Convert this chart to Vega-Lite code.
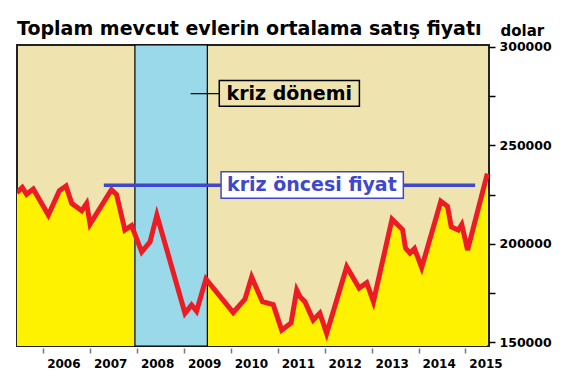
{
  "$schema": "https://vega.github.io/schema/vega-lite/v6.json",
  "width": 472,
  "height": 301,
  "autosize": {"type": "none"},
  "padding": {"left": 17, "top": 45, "right": 77, "bottom": 38},
  "background": "white",
  "config": {
    "view": {"fill": "#EFE4B0", "stroke": "#222222", "strokeWidth": 2},
    "font": "DejaVu Sans"
  },
  "title": {
    "text": "Toplam mevcut evlerin ortalama satış fiyatı",
    "anchor": "start",
    "frame": "group",
    "offset": 10,
    "dy": 26,
    "font": "DejaVu Sans",
    "fontSize": 19,
    "fontWeight": "bold",
    "color": "#000000"
  },
  "datasets": {
    "fiyat": [
      {"tarih": "2005-06-08", "fiyat": 225900},
      {"tarih": "2005-07-21", "fiyat": 228600},
      {"tarih": "2005-08-24", "fiyat": 225100},
      {"tarih": "2005-10-15", "fiyat": 227800},
      {"tarih": "2006-02-09", "fiyat": 214600},
      {"tarih": "2006-05-06", "fiyat": 226900},
      {"tarih": "2006-06-27", "fiyat": 229300},
      {"tarih": "2006-08-10", "fiyat": 220500},
      {"tarih": "2006-10-27", "fiyat": 216800},
      {"tarih": "2006-12-04", "fiyat": 220500},
      {"tarih": "2006-12-31", "fiyat": 210000},
      {"tarih": "2007-06-15", "fiyat": 227500},
      {"tarih": "2007-07-25", "fiyat": 225000},
      {"tarih": "2007-09-28", "fiyat": 207000},
      {"tarih": "2007-11-19", "fiyat": 209200},
      {"tarih": "2008-02-06", "fiyat": 195900},
      {"tarih": "2008-04-11", "fiyat": 201000},
      {"tarih": "2008-06-03", "fiyat": 214600},
      {"tarih": "2009-01-08", "fiyat": 164700},
      {"tarih": "2009-02-28", "fiyat": 168900},
      {"tarih": "2009-04-08", "fiyat": 165800},
      {"tarih": "2009-06-20", "fiyat": 182100},
      {"tarih": "2010-01-19", "fiyat": 165100},
      {"tarih": "2010-04-20", "fiyat": 171900},
      {"tarih": "2010-06-11", "fiyat": 183100},
      {"tarih": "2010-09-03", "fiyat": 170600},
      {"tarih": "2010-11-26", "fiyat": 169100},
      {"tarih": "2011-01-31", "fiyat": 156200},
      {"tarih": "2011-04-14", "fiyat": 159800},
      {"tarih": "2011-05-28", "fiyat": 176500},
      {"tarih": "2011-06-23", "fiyat": 173100},
      {"tarih": "2011-07-31", "fiyat": 170600},
      {"tarih": "2011-10-03", "fiyat": 161300},
      {"tarih": "2011-11-24", "fiyat": 164800},
      {"tarih": "2012-01-16", "fiyat": 154500},
      {"tarih": "2012-06-20", "fiyat": 188300},
      {"tarih": "2012-09-25", "fiyat": 177500},
      {"tarih": "2012-11-23", "fiyat": 180200},
      {"tarih": "2013-01-14", "fiyat": 170600},
      {"tarih": "2013-06-08", "fiyat": 212500},
      {"tarih": "2013-08-29", "fiyat": 207200},
      {"tarih": "2013-09-21", "fiyat": 197800},
      {"tarih": "2013-10-26", "fiyat": 195300},
      {"tarih": "2013-11-30", "fiyat": 197600},
      {"tarih": "2014-01-25", "fiyat": 187900},
      {"tarih": "2014-06-23", "fiyat": 221600},
      {"tarih": "2014-08-14", "fiyat": 219000},
      {"tarih": "2014-09-12", "fiyat": 208600},
      {"tarih": "2014-11-06", "fiyat": 207000},
      {"tarih": "2014-12-03", "fiyat": 209800},
      {"tarih": "2015-01-17", "fiyat": 196800},
      {"tarih": "2015-06-20", "fiyat": 235600}
    ],
    "kriz": [
      {"baslangic": "2007-12-15", "bitis": "2009-07-01"}
    ],
    "oncesi": [
      {"bas": "2007-04-17", "son": "2015-03-17", "fiyat": 229650}
    ],
    "kutu1": [
      {"metin": "kriz öncesi fiyat", "x1": "2009-10-16", "x2": "2013-09-04", "xm": "2011-09-23", "y1": 223050, "y2": 236550, "ym": 229650}
    ],
    "kutu2": [
      {"metin": "kriz dönemi", "x0": "2009-02-21", "x1": "2009-10-02", "x2": "2012-09-27", "xm": "2011-03-31", "y1": 269750, "y2": 282940, "ym": 276200}
    ]
  },
  "layer": [
    {
      "data": {"name": "fiyat"},
      "mark": {"type": "area", "color": "#FFF200", "clip": true},
      "encoding": {
        "x": {
          "field": "tarih", "type": "temporal",
          "scale": {"type": "utc", "domain": [{"year": 2005, "month": 6, "date": 10, "utc": true}, {"year": 2015, "month": 7, "date": 3, "utc": true}]},
          "axis": {
            "values": [
              {"year": 2006, "month": 1, "date": 1, "utc": true},
              {"year": 2007, "month": 1, "date": 1, "utc": true},
              {"year": 2008, "month": 1, "date": 1, "utc": true},
              {"year": 2009, "month": 1, "date": 1, "utc": true},
              {"year": 2010, "month": 1, "date": 1, "utc": true},
              {"year": 2011, "month": 1, "date": 1, "utc": true},
              {"year": 2012, "month": 1, "date": 1, "utc": true},
              {"year": 2013, "month": 1, "date": 1, "utc": true},
              {"year": 2014, "month": 1, "date": 1, "utc": true},
              {"year": 2015, "month": 1, "date": 1, "utc": true}
            ],
            "format": "%Y",
            "labelOffset": 20,
            "domain": false,
            "grid": false,
            "offset": 2,
            "tickColor": "#777777",
            "tickSize": 5,
            "tickWidth": 1.5,
            "labelPadding": 5,
            "labelFont": "DejaVu Sans",
            "labelFontSize": 12,
            "labelFontWeight": "bold",
            "labelColor": "#000000",
            "labelFlush": false,
            "labelOverlap": false,
            "title": null
          }
        },
        "y": {
          "field": "fiyat", "type": "quantitative",
          "scale": {"domain": [148100, 300900], "zero": false, "nice": false},
          "axis": {
            "orient": "right",
            "values": [150000, 175000, 200000, 225000, 250000, 275000, 300000],
            "format": "d",
            "labelExpr": "datum.value % 50000 === 0 ? datum.label : ''",
            "domain": false,
            "grid": false,
            "tickColor": "#000000",
            "tickSize": 6,
            "tickWidth": 1.5,
            "labelPadding": 4,
            "labelFont": "DejaVu Sans",
            "labelFontSize": 12.5,
            "labelFontWeight": "bold",
            "labelColor": "#000000",
            "labelBaseline": "middle",
            "title": "dolar",
            "titleAngle": 0,
            "titleX": 11,
            "titleY": -10,
            "titleAlign": "left",
            "titleBaseline": "alphabetic",
            "titleFont": "DejaVu Sans",
            "titleFontSize": 15,
            "titleFontWeight": "bold",
            "titleColor": "#000000"
          }
        }
      }
    },
    {
      "data": {"name": "kriz"},
      "mark": {"type": "rect", "fill": "#99D9EA", "stroke": "#000000", "strokeWidth": 1.2},
      "encoding": {
        "x": {"field": "baslangic", "type": "temporal"},
        "x2": {"field": "bitis"}
      }
    },
    {
      "data": {"name": "fiyat"},
      "mark": {"type": "line", "color": "#ED1C24", "strokeWidth": 5, "clip": true},
      "encoding": {
        "x": {"field": "tarih", "type": "temporal"},
        "y": {"field": "fiyat", "type": "quantitative"}
      }
    },
    {
      "data": {"name": "oncesi"},
      "mark": {"type": "rule", "color": "#3F48CC", "strokeWidth": 3.5},
      "encoding": {
        "x": {"field": "bas", "type": "temporal"},
        "x2": {"field": "son"},
        "y": {"field": "fiyat", "type": "quantitative"}
      }
    },
    {
      "data": {"name": "kutu1"},
      "mark": {"type": "rect", "fill": "#FFFFFF", "stroke": "#3F48CC", "strokeWidth": 1.5},
      "encoding": {
        "x": {"field": "x1", "type": "temporal"},
        "x2": {"field": "x2"},
        "y": {"field": "y1", "type": "quantitative"},
        "y2": {"field": "y2"}
      }
    },
    {
      "data": {"name": "kutu1"},
      "mark": {"type": "text", "color": "#3F48CC", "font": "DejaVu Sans", "fontSize": 19, "fontWeight": "bold", "align": "center", "baseline": "middle"},
      "encoding": {
        "x": {"field": "xm", "type": "temporal"},
        "y": {"field": "ym", "type": "quantitative"},
        "text": {"field": "metin"}
      }
    },
    {
      "data": {"name": "kutu2"},
      "mark": {"type": "rule", "color": "#000000", "strokeWidth": 1.2},
      "encoding": {
        "x": {"field": "x0", "type": "temporal"},
        "x2": {"field": "x1"},
        "y": {"field": "ym", "type": "quantitative"}
      }
    },
    {
      "data": {"name": "kutu2"},
      "mark": {"type": "rect", "fill": "#EFE4B0", "stroke": "#000000", "strokeWidth": 1.5},
      "encoding": {
        "x": {"field": "x1", "type": "temporal"},
        "x2": {"field": "x2"},
        "y": {"field": "y1", "type": "quantitative"},
        "y2": {"field": "y2"}
      }
    },
    {
      "data": {"name": "kutu2"},
      "mark": {"type": "text", "color": "#000000", "font": "DejaVu Sans", "fontSize": 19, "fontWeight": "bold", "align": "center", "baseline": "middle"},
      "encoding": {
        "x": {"field": "xm", "type": "temporal"},
        "y": {"field": "ym", "type": "quantitative"},
        "text": {"field": "metin"}
      }
    }
  ]
}
